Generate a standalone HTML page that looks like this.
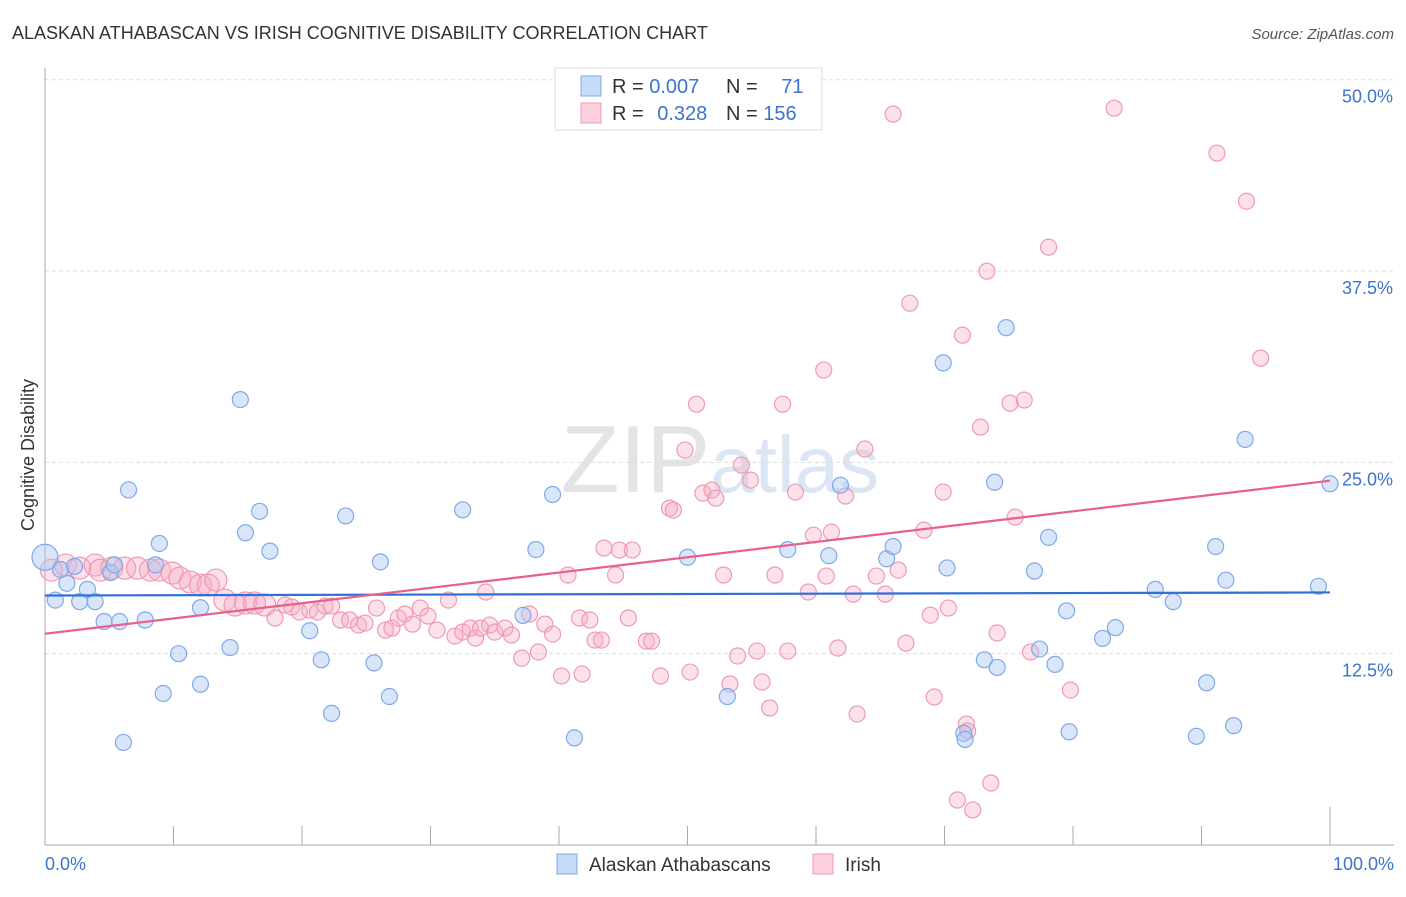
<!DOCTYPE html>
<html><head><meta charset="utf-8"><style>
body{margin:0;background:#fff;font-family:"Liberation Sans",sans-serif}
svg text{font-family:"Liberation Sans",sans-serif}
</style></head><body>
<svg id="chart" width="1406" height="892">
<text x="12" y="39" font-size="18" fill="#333">ALASKAN ATHABASCAN VS IRISH COGNITIVE DISABILITY CORRELATION CHART</text>
<text x="1394" y="39" font-size="15" fill="#555" font-style="italic" text-anchor="end">Source: ZipAtlas.com</text>
<text x="720" y="492" font-size="96" fill="#e4e4e4" text-anchor="middle" font-family="Liberation Serif">ZIP<tspan fill="#dbe6f5" font-family="Liberation Sans" font-size="80">atlas</tspan></text>
<g id="grid"></g>
<g id="axes"></g>
<g id="points"></g>
<g id="trends"></g>
<text x="34" y="455" font-size="18" fill="#333" text-anchor="middle" transform="rotate(-90 34 455)">Cognitive Disability</text>
<g>
<rect x="555" y="68" width="267" height="62" fill="#fff" stroke="#ddd"/>
<rect x="581" y="76" width="20" height="20" fill="#c6dbf7" stroke="#7fa9e8"/>
<rect x="581" y="103" width="20" height="20" fill="#fbcfdc" stroke="#ef9ab5"/>
<text x="612" y="93" font-size="20" fill="#333">R = <tspan fill="#3b73d1">0.007</tspan></text>
<text x="726" y="93" font-size="20" fill="#333">N = <tspan fill="#3b73d1" dx="18">71</tspan></text>
<text x="612" y="120" font-size="20" fill="#333">R = <tspan fill="#3b73d1" dx="8">0.328</tspan></text>
<text x="726" y="120" font-size="20" fill="#333">N = <tspan fill="#3b73d1">156</tspan></text>
</g>
<g>
<rect x="557" y="854" width="20" height="20" fill="#c6dbf7" stroke="#7fa9e8"/>
<text x="589" y="871" font-size="19" fill="#333">Alaskan Athabascans</text>
<rect x="813" y="854" width="20" height="20" fill="#fbcfdc" stroke="#ef9ab5"/>
<text x="845" y="871" font-size="19" fill="#333">Irish</text>
</g>
</svg>
<script>
const yTicks=[12.5,25,37.5,50];
const xTickLabels=["0.0%","100.0%"];
const blueX=[0,0.8,1.7,2.7,3.3,3.9,4.6,5.8,6.1,6.5,7.8,8.9,9.2,10.4,12.1,12.1,14.4,15.2,15.6,16.7,17.5,20.6,21.5,22.3,23.4,25.6,26.1,26.8,32.5,37.2,38.2,39.5,41.2,50.0,53.1,57.8,61.0,61.9,65.5,66.0,69.9,70.2,71.5,71.6,73.1,74.1,73.9,74.8,77.0,77.4,78.1,78.6,79.5,79.7,82.3,83.3,86.4,87.8,90.4,89.6,91.1,91.9,92.5,93.4,99.1,100,1.2,2.3,5.1,8.6,5.4];
const blueY=[18.8,16.0,17.1,15.9,16.7,15.9,14.6,14.6,6.7,23.2,14.7,19.7,9.9,12.5,10.5,15.5,12.9,29.1,20.4,21.8,19.2,14.0,12.1,8.6,21.5,11.9,18.5,9.7,21.9,15.0,19.3,22.9,7.0,18.8,9.7,19.3,18.9,23.5,18.7,19.5,31.5,18.1,7.3,6.9,12.1,11.6,23.7,33.8,17.9,12.8,20.1,11.8,15.3,7.4,13.5,14.2,16.7,15.9,10.6,7.1,19.5,17.3,7.8,26.5,16.9,23.6,18.0,18.2,17.8,18.3,18.3];
const pinkX=[0.5,1.6,2.7,3.9,4.3,5.2,6.2,7.2,8.2,8.9,9.9,10.5,11.3,12.1,12.7,13.3,14.0,14.8,15.6,16.3,17.1,17.9,18.7,19.2,19.8,20.6,21.2,21.8,22.3,23.0,23.7,24.4,24.9,25.8,26.5,27.0,27.5,28.0,28.6,29.2,29.8,30.5,31.4,31.9,32.5,33.1,33.5,33.9,34.3,34.6,35.0,35.8,36.3,37.1,37.7,38.4,38.9,39.5,40.2,40.7,41.6,41.8,42.4,42.8,43.3,43.5,44.4,44.7,45.4,45.7,46.8,47.2,47.9,48.6,48.9,49.8,50.2,50.7,51.2,51.9,52.2,52.8,53.3,53.9,54.2,54.9,55.4,55.8,56.4,56.8,57.4,57.8,58.4,59.4,59.8,60.6,60.8,61.2,61.7,62.3,62.9,63.2,63.8,64.7,65.4,66.0,66.4,67.0,67.3,68.4,68.9,69.2,69.9,70.3,71.4,71.7,71.8,71.0,72.2,72.8,73.3,73.6,74.1,75.1,75.5,76.2,76.7,78.1,79.8,83.2,91.2,93.5,94.6];
const pinkY=[17.96,18.29,18.09,18.29,17.96,18.09,18.09,18.09,17.96,17.96,17.77,17.44,17.18,16.98,16.98,17.31,16.0,15.68,15.81,15.81,15.68,14.83,15.68,15.55,15.22,15.35,15.22,15.61,15.61,14.70,14.70,14.37,14.50,15.48,14.04,14.17,14.83,15.09,14.43,15.48,14.96,14.04,16.0,13.65,13.91,14.17,13.52,14.17,16.53,14.37,13.91,14.17,13.72,12.21,15.09,12.61,14.43,13.78,11.04,17.64,14.83,11.17,14.70,13.39,13.39,19.40,17.64,19.27,14.83,19.27,13.32,13.32,11.04,22.01,21.88,25.80,11.30,28.80,22.99,23.19,22.66,17.64,10.52,12.35,24.82,23.84,12.67,10.65,8.95,17.64,28.80,12.67,23.06,16.53,20.25,31.03,17.57,20.44,12.87,22.80,16.39,8.56,25.87,17.57,16.39,47.75,17.96,13.19,35.40,20.57,15.02,9.67,23.06,15.48,33.31,7.90,7.45,2.94,2.29,27.30,37.49,4.05,13.85,28.87,21.42,29.07,12.61,39.06,10.12,48.14,45.20,42.06,31.81];
const pinkBig=[0,1,2,3,4,5,6,7,8,9,10,11,12,13,14,15,16,17,18,19,20];
const blueTrend=[16.3,16.5];
const pinkTrend=[13.8,23.8];
const NS="http://www.w3.org/2000/svg";
const X=v=>45+v*12.85, Y=v=>845-v*15.306;
function mk(tag,attrs,parent){const e=document.createElementNS(NS,tag);for(const k in attrs)e.setAttribute(k,attrs[k]);parent.appendChild(e);return e;}
const grid=document.getElementById('grid'),axes=document.getElementById('axes'),pts=document.getElementById('points'),tr=document.getElementById('trends');
yTicks.forEach(t=>{
 const l=mk('line',{x1:45,x2:1394,y1:Y(t),y2:Y(t),stroke:'#ddd','stroke-dasharray':'4 3'},grid);
 
 
 const tx=mk('text',{x:1393,y:Y(t)+23,'font-size':18,fill:'#3b73d1','text-anchor':'end'},grid);
 tx.textContent=t.toFixed(1)+'%';
 
 
});
const ax=mk('line',{x1:45,x2:1394,y1:845,y2:845,stroke:'#aaa'},axes);


const ay=mk('line',{x1:45,x2:45,y1:68,y2:845,stroke:'#aaa'},axes);


for(let i=1;i<=10;i++){
 const t=mk('line',{x1:X(i*10),x2:X(i*10),y1:845,y2:i==10?807:826,stroke:'#aaa'},axes);
 
 
}
[[0,'start',45],[100,'end',1394]].forEach((d,i)=>{
 const t=mk('text',{x:d[2],y:870,'font-size':18,fill:'#3b73d1','text-anchor':d[1]},axes);
 t.textContent=xTickLabels[i];
 
 
});
pinkX.forEach((v,i)=>{
 const c=mk('circle',{cx:X(v),cy:Y(pinkY[i]),r:pinkBig.includes(i)?11:8,fill:'rgba(247,170,196,0.35)',stroke:'#ef9ab5','stroke-width':1.2},pts);
 
 
});
blueX.forEach((v,i)=>{
 const c=mk('circle',{cx:X(v),cy:Y(blueY[i]),r:i==0?13:8,fill:'rgba(170,200,245,0.45)',stroke:'#7fa9e8','stroke-width':1.2},pts);
 
 
});
const bt=mk('line',{x1:X(0),x2:X(100),y1:Y(blueTrend[0]),y2:Y(blueTrend[1]),stroke:'#2f6fd6','stroke-width':2.2},tr);


const pt=mk('line',{x1:X(0),x2:X(100),y1:Y(pinkTrend[0]),y2:Y(pinkTrend[1]),stroke:'#e8608d','stroke-width':2.2},tr);


</script>
</body></html>
